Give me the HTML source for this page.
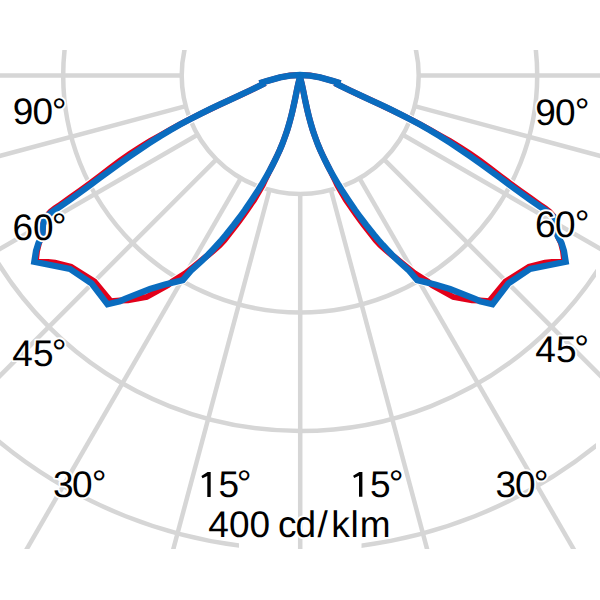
<!DOCTYPE html>
<html><head><meta charset="utf-8"><style>
html,body{margin:0;padding:0;background:#fff;width:600px;height:600px;overflow:hidden}
svg{display:block;text-rendering:geometricPrecision}
</style></head><body>
<svg width="600" height="600" viewBox="0 0 600 600">
<defs>
<clipPath id="ca"><rect x="0" y="50" width="596" height="499"/></clipPath>
<clipPath id="c4"><rect x="0" y="50" width="239" height="499"/><rect x="361.5" y="50" width="234.5" height="499"/></clipPath>
<clipPath id="cr"><rect x="0" y="50" width="600" height="499"/></clipPath>
</defs>
<rect x="0" y="0" width="600" height="600" fill="#fff"/>
<g clip-path="url(#ca)" fill="none" stroke="#d6d6d6" stroke-width="4.5">
<circle cx="300.2" cy="75.5" r="118.5"/>
<circle cx="300.2" cy="75.5" r="237"/>
<circle cx="300.2" cy="75.5" r="355.5"/>
</g>
<g clip-path="url(#c4)" fill="none" stroke="#d6d6d6" stroke-width="4.5">
<circle cx="300.2" cy="75.5" r="474"/>
</g>
<g clip-path="url(#cr)" fill="none" stroke="#d6d6d6" stroke-width="4.5">
<line x1="181.7" y1="75.5" x2="-599.8" y2="75.5"/>
<line x1="185.7" y1="106.2" x2="-569.1" y2="308.4"/>
<line x1="197.6" y1="134.8" x2="-479.2" y2="525.5"/>
<line x1="216.4" y1="159.3" x2="-336.2" y2="711.9"/>
<line x1="240.9" y1="178.1" x2="-149.8" y2="854.9"/>
<line x1="269.5" y1="190" x2="67.3" y2="944.8"/>
<line x1="300.2" y1="194" x2="300.2" y2="975.5"/>
<line x1="330.9" y1="190" x2="533.1" y2="944.8"/>
<line x1="359.4" y1="178.1" x2="750.2" y2="854.9"/>
<line x1="384" y1="159.3" x2="936.6" y2="711.9"/>
<line x1="402.8" y1="134.8" x2="1079.6" y2="525.5"/>
<line x1="414.7" y1="106.2" x2="1169.5" y2="308.4"/>
<line x1="418.7" y1="75.5" x2="1200.2" y2="75.5"/>
</g>
<polyline points="259.5,83.3 266.7,81.1 280,77.4 290,75.6 300.3,75" fill="none" stroke="#fff" stroke-width="8.3" stroke-linejoin="miter"/>
<polyline points="265.2,83 260,85.6 250,90.5 240,95.2 230,99.8 220,104.4 210,109.2 200,114.1 190,119.2 180,124.4 170,129.8 160,135.5 150,141.2 140,147.3 130,153.8 120,160.8 110,168.2 100,175.9 90,183.3 80,190.6 70,197.8 60,204.9 55,208.3 50.5,211.7 44.5,218.5 43,225 42.3,236 39,243 37,251 35.8,260.8 55,262.8 71,266.7 94.5,281.6 110.7,301.2 120,300.5 128,300.3 146.7,297 167.7,285.3 172,281.8 185,273.5 195,265.5 205,257.5 208.5,255 214.3,250 219.8,245 224.5,240 228.5,235 232.4,230 236.3,225 240,220 243.6,215 247.1,210 250.5,205 254,200 257,195 259.9,190 262.7,185 265.1,180 267.6,175 270,170 272.6,165 275.1,160 277.5,155 279.8,150 281.9,145 283.8,140 285.6,135 287.3,130 288.8,125 290.2,120 291.5,115 292.7,110 293.8,105 294.9,100 295.9,95 296.9,90 298,85 299.2,80 300,77 300.3,75" fill="none" stroke="#fff" stroke-width="8.3" stroke-linejoin="miter"/>
<polyline points="340.5,83.3 333.3,81.1 320,77.4 310,75.6 299.7,75" fill="none" stroke="#fff" stroke-width="8.3" stroke-linejoin="miter"/>
<polyline points="334.8,83 340,85.6 350,90.5 360,95.2 370,99.8 380,104.4 390,109.2 400,114.1 410,119.2 420,124.4 430,129.8 440,135.5 450,141.2 460,147.3 470,153.8 480,160.8 490,168.2 500,175.9 510,183.3 520,190.6 530,197.8 540,204.9 545,208.3 549.5,211.7 555.5,218.5 557,225 557.7,236 561,243 563,251 564.2,260.8 545,262.8 529,266.7 505.5,281.6 489.3,301.2 480,300.5 472,300.3 453.3,297 432.3,285.3 428,281.8 415,273.5 405,265.5 395,257.5 391.5,255 385.7,250 380.2,245 375.5,240 371.5,235 367.6,230 363.7,225 360,220 356.4,215 352.9,210 349.5,205 346,200 343,195 340.1,190 337.3,185 334.9,180 332.4,175 330,170 327.4,165 324.9,160 322.5,155 320.2,150 318.1,145 316.2,140 314.4,135 312.7,130 311.2,125 309.8,120 308.5,115 307.3,110 306.2,105 305.1,100 304.1,95 303.1,90 302,85 300.8,80 300,77 299.7,75" fill="none" stroke="#fff" stroke-width="8.3" stroke-linejoin="miter"/>
<polyline points="259.5,83.3 266.7,81.1 280,77.4 290,75.6 300.3,75" fill="none" stroke="#fff" stroke-width="8.3" stroke-linejoin="miter"/>
<polyline points="265.2,83 260,85.6 250,90.5 240,95.2 230,99.8 220,104.4 210,109.2 200,114.1 190,119.2 180,124.6 170,130.3 160,136.3 150,142.7 140,149.3 130,156.1 120,163.2 110,170.5 100,177.8 90,185.2 80,192.5 70,199.7 60,206.6 55,209.8 50.5,213.2 44.5,218.5 43,225 42.3,236 38.5,243 36,251 34.3,261.8 70,269 91.5,283.3 107.5,304.3 120,301.2 125,298.8 150,289 165,284.5 182.8,280.1 191.5,270 197.3,265 202.7,260 207.8,255 212.6,250 217.2,245 221.6,240 225.8,235 229.8,230 233.8,225 237.6,220 241.3,215 244.9,210 248.3,205 251.7,200 255,195 258.3,190 261.4,185 264.3,180 267.2,175 270,170 272.6,165 275.1,160 277.5,155 279.8,150 281.9,145 283.8,140 285.6,135 287.3,130 288.8,125 290.2,120 291.5,115 292.7,110 293.8,105 294.9,100 295.9,95 296.9,90 298,85 299.2,80 300,77 300.3,75" fill="none" stroke="#fff" stroke-width="8.3" stroke-linejoin="miter"/>
<polyline points="340.5,83.3 333.3,81.1 320,77.4 310,75.6 299.7,75" fill="none" stroke="#fff" stroke-width="8.3" stroke-linejoin="miter"/>
<polyline points="334.8,83 340,85.6 350,90.5 360,95.2 370,99.8 380,104.4 390,109.2 400,114.1 410,119.2 420,124.6 430,130.3 440,136.3 450,142.7 460,149.3 470,156.1 480,163.2 490,170.5 500,177.8 510,185.2 520,192.5 530,199.7 540,206.6 545,209.8 549.5,213.2 555.5,218.5 557,225 557.7,236 561.5,243 564,251 565.7,261.8 530,269 508.5,283.3 492.5,304.3 480,301.2 475,298.8 450,289 435,284.5 417.2,280.1 408.5,270 402.7,265 397.3,260 392.2,255 387.4,250 382.8,245 378.4,240 374.2,235 370.2,230 366.2,225 362.4,220 358.7,215 355.1,210 351.7,205 348.3,200 345,195 341.7,190 338.6,185 335.7,180 332.8,175 330,170 327.4,165 324.9,160 322.5,155 320.2,150 318.1,145 316.2,140 314.4,135 312.7,130 311.2,125 309.8,120 308.5,115 307.3,110 306.2,105 305.1,100 304.1,95 303.1,90 302,85 300.8,80 300,77 299.7,75" fill="none" stroke="#fff" stroke-width="8.3" stroke-linejoin="miter"/>
<polyline points="259.5,83.3 266.7,81.1 280,77.4 290,75.6 300.3,75" fill="none" stroke="#e2001a" stroke-width="6.0" stroke-linejoin="miter"/>
<polyline points="265.2,83 260,85.6 250,90.5 240,95.2 230,99.8 220,104.4 210,109.2 200,114.1 190,119.2 180,124.4 170,129.8 160,135.5 150,141.2 140,147.3 130,153.8 120,160.8 110,168.2 100,175.9 90,183.3 80,190.6 70,197.8 60,204.9 55,208.3 50.5,211.7 44.5,218.5 43,225 42.3,236 39,243 37,251 35.8,260.8 55,262.8 71,266.7 94.5,281.6 110.7,301.2 120,300.5 128,300.3 146.7,297 167.7,285.3 172,281.8 185,273.5 195,265.5 205,257.5 208.5,255 214.3,250 219.8,245 224.5,240 228.5,235 232.4,230 236.3,225 240,220 243.6,215 247.1,210 250.5,205 254,200 257,195 259.9,190 262.7,185 265.1,180 267.6,175 270,170 272.6,165 275.1,160 277.5,155 279.8,150 281.9,145 283.8,140 285.6,135 287.3,130 288.8,125 290.2,120 291.5,115 292.7,110 293.8,105 294.9,100 295.9,95 296.9,90 298,85 299.2,80 300,77 300.3,75" fill="none" stroke="#e2001a" stroke-width="6.0" stroke-linejoin="miter"/>
<polyline points="340.5,83.3 333.3,81.1 320,77.4 310,75.6 299.7,75" fill="none" stroke="#e2001a" stroke-width="6.0" stroke-linejoin="miter"/>
<polyline points="334.8,83 340,85.6 350,90.5 360,95.2 370,99.8 380,104.4 390,109.2 400,114.1 410,119.2 420,124.4 430,129.8 440,135.5 450,141.2 460,147.3 470,153.8 480,160.8 490,168.2 500,175.9 510,183.3 520,190.6 530,197.8 540,204.9 545,208.3 549.5,211.7 555.5,218.5 557,225 557.7,236 561,243 563,251 564.2,260.8 545,262.8 529,266.7 505.5,281.6 489.3,301.2 480,300.5 472,300.3 453.3,297 432.3,285.3 428,281.8 415,273.5 405,265.5 395,257.5 391.5,255 385.7,250 380.2,245 375.5,240 371.5,235 367.6,230 363.7,225 360,220 356.4,215 352.9,210 349.5,205 346,200 343,195 340.1,190 337.3,185 334.9,180 332.4,175 330,170 327.4,165 324.9,160 322.5,155 320.2,150 318.1,145 316.2,140 314.4,135 312.7,130 311.2,125 309.8,120 308.5,115 307.3,110 306.2,105 305.1,100 304.1,95 303.1,90 302,85 300.8,80 300,77 299.7,75" fill="none" stroke="#e2001a" stroke-width="6.0" stroke-linejoin="miter"/>
<polyline points="259.5,83.3 266.7,81.1 280,77.4 290,75.6 300.3,75" fill="none" stroke="#0a6cbf" stroke-width="6.3" stroke-linejoin="miter"/>
<polyline points="265.2,83 260,85.6 250,90.5 240,95.2 230,99.8 220,104.4 210,109.2 200,114.1 190,119.2 180,124.6 170,130.3 160,136.3 150,142.7 140,149.3 130,156.1 120,163.2 110,170.5 100,177.8 90,185.2 80,192.5 70,199.7 60,206.6 55,209.8 50.5,213.2 44.5,218.5 43,225 42.3,236 38.5,243 36,251 34.3,261.8 70,269 91.5,283.3 107.5,304.3 120,301.2 125,298.8 150,289 165,284.5 182.8,280.1 191.5,270 197.3,265 202.7,260 207.8,255 212.6,250 217.2,245 221.6,240 225.8,235 229.8,230 233.8,225 237.6,220 241.3,215 244.9,210 248.3,205 251.7,200 255,195 258.3,190 261.4,185 264.3,180 267.2,175 270,170 272.6,165 275.1,160 277.5,155 279.8,150 281.9,145 283.8,140 285.6,135 287.3,130 288.8,125 290.2,120 291.5,115 292.7,110 293.8,105 294.9,100 295.9,95 296.9,90 298,85 299.2,80 300,77 300.3,75" fill="none" stroke="#0a6cbf" stroke-width="6.3" stroke-linejoin="miter"/>
<polyline points="340.5,83.3 333.3,81.1 320,77.4 310,75.6 299.7,75" fill="none" stroke="#0a6cbf" stroke-width="6.3" stroke-linejoin="miter"/>
<polyline points="334.8,83 340,85.6 350,90.5 360,95.2 370,99.8 380,104.4 390,109.2 400,114.1 410,119.2 420,124.6 430,130.3 440,136.3 450,142.7 460,149.3 470,156.1 480,163.2 490,170.5 500,177.8 510,185.2 520,192.5 530,199.7 540,206.6 545,209.8 549.5,213.2 555.5,218.5 557,225 557.7,236 561.5,243 564,251 565.7,261.8 530,269 508.5,283.3 492.5,304.3 480,301.2 475,298.8 450,289 435,284.5 417.2,280.1 408.5,270 402.7,265 397.3,260 392.2,255 387.4,250 382.8,245 378.4,240 374.2,235 370.2,230 366.2,225 362.4,220 358.7,215 355.1,210 351.7,205 348.3,200 345,195 341.7,190 338.6,185 335.7,180 332.8,175 330,170 327.4,165 324.9,160 322.5,155 320.2,150 318.1,145 316.2,140 314.4,135 312.7,130 311.2,125 309.8,120 308.5,115 307.3,110 306.2,105 305.1,100 304.1,95 303.1,90 302,85 300.8,80 300,77 299.7,75" fill="none" stroke="#0a6cbf" stroke-width="6.3" stroke-linejoin="miter"/>
<g font-family="Liberation Sans, sans-serif" font-size="37" fill="#fff" stroke="#fff" stroke-width="3.6" stroke-linejoin="round">
<text><tspan x="12.8" y="124.4">9</tspan><tspan x="32.6" y="124.4">0</tspan><tspan x="51.8" y="123.6">°</tspan></text>
<text><tspan x="12.6" y="239.8">6</tspan><tspan x="33.1" y="239.8">0</tspan><tspan x="51.8" y="239">°</tspan></text>
<text><tspan x="12.2" y="365.8">4</tspan><tspan x="33" y="365.8">5</tspan><tspan x="51.8" y="365">°</tspan></text>
<text><tspan x="53.1" y="496.9">3</tspan><tspan x="72.1" y="496.9">0</tspan><tspan x="91.8" y="496.1">°</tspan></text>
<path d="M210.7 472.1V497H207.3V476L202.5 478.2L201.4 476L207.6 472.1Z"/>
<text><tspan x="218.5" y="497">5</tspan><tspan x="236.8" y="496.2">°</tspan></text>
<path d="M362.4 471.9V496.8H359V475.8L354.2 478L353.1 475.8L359.3 471.9Z"/>
<text><tspan x="370" y="496.8">5</tspan><tspan x="388.8" y="496">°</tspan></text>
<text><tspan x="495.6" y="496.8">3</tspan><tspan x="515.1" y="496.8">0</tspan><tspan x="533.8" y="496">°</tspan></text>
<text><tspan x="535.2" y="362">4</tspan><tspan x="556" y="362">5</tspan><tspan x="574.3" y="361.2">°</tspan></text>
<text><tspan x="535.1" y="236.6">6</tspan><tspan x="555.1" y="236.6">0</tspan><tspan x="574.8" y="235.8">°</tspan></text>
<text><tspan x="535.3" y="124.5">9</tspan><tspan x="555.1" y="124.5">0</tspan><tspan x="574.8" y="123.7">°</tspan></text>
<text><tspan x="208.2" y="536.6">4</tspan><tspan x="228.9" y="536.6">0</tspan><tspan x="249.5" y="536.6">0</tspan><tspan x="277.9" y="536.6">c</tspan><tspan x="295.4" y="536.6">d</tspan><tspan x="317.6" y="536.6">/</tspan><tspan x="331.3" y="536.6">k</tspan><tspan x="350.5" y="536.6">l</tspan><tspan x="359.8" y="536.6">m</tspan></text>
</g>
<g font-family="Liberation Sans, sans-serif" font-size="37" fill="#000">
<text><tspan x="12.8" y="124.4">9</tspan><tspan x="32.6" y="124.4">0</tspan><tspan x="51.8" y="123.6">°</tspan></text>
<text><tspan x="12.6" y="239.8">6</tspan><tspan x="33.1" y="239.8">0</tspan><tspan x="51.8" y="239">°</tspan></text>
<text><tspan x="12.2" y="365.8">4</tspan><tspan x="33" y="365.8">5</tspan><tspan x="51.8" y="365">°</tspan></text>
<text><tspan x="53.1" y="496.9">3</tspan><tspan x="72.1" y="496.9">0</tspan><tspan x="91.8" y="496.1">°</tspan></text>
<path d="M210.7 472.1V497H207.3V476L202.5 478.2L201.4 476L207.6 472.1Z"/>
<text><tspan x="218.5" y="497">5</tspan><tspan x="236.8" y="496.2">°</tspan></text>
<path d="M362.4 471.9V496.8H359V475.8L354.2 478L353.1 475.8L359.3 471.9Z"/>
<text><tspan x="370" y="496.8">5</tspan><tspan x="388.8" y="496">°</tspan></text>
<text><tspan x="495.6" y="496.8">3</tspan><tspan x="515.1" y="496.8">0</tspan><tspan x="533.8" y="496">°</tspan></text>
<text><tspan x="535.2" y="362">4</tspan><tspan x="556" y="362">5</tspan><tspan x="574.3" y="361.2">°</tspan></text>
<text><tspan x="535.1" y="236.6">6</tspan><tspan x="555.1" y="236.6">0</tspan><tspan x="574.8" y="235.8">°</tspan></text>
<text><tspan x="535.3" y="124.5">9</tspan><tspan x="555.1" y="124.5">0</tspan><tspan x="574.8" y="123.7">°</tspan></text>
<text><tspan x="208.2" y="536.6">4</tspan><tspan x="228.9" y="536.6">0</tspan><tspan x="249.5" y="536.6">0</tspan><tspan x="277.9" y="536.6">c</tspan><tspan x="295.4" y="536.6">d</tspan><tspan x="317.6" y="536.6">/</tspan><tspan x="331.3" y="536.6">k</tspan><tspan x="350.5" y="536.6">l</tspan><tspan x="359.8" y="536.6">m</tspan></text>
</g>
</svg>
</body></html>
